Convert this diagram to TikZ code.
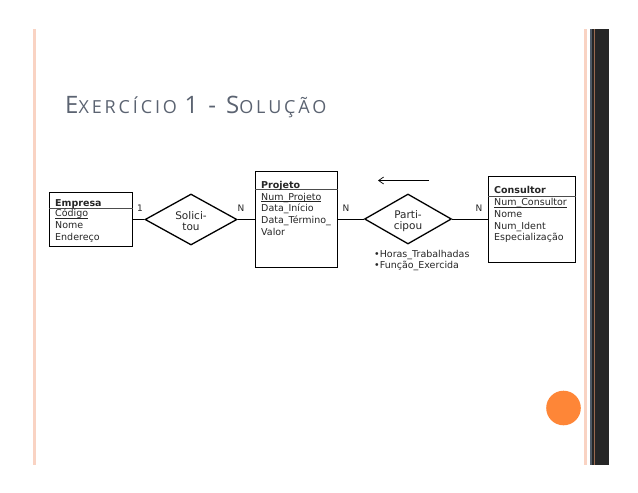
\documentclass[tikz,border=0pt]{standalone}
\usepackage{fontspec}
\setmainfont{DejaVu Sans}
\newfontfamily\titlefont[LetterSpace=16]{Open Sans}
\usetikzlibrary{shapes.geometric,arrows.meta}
\definecolor{pinkline}{HTML}{F9D3C3}
\definecolor{titlegray}{HTML}{5B6371}
\definecolor{bandbrown}{HTML}{9A6A50}
\definecolor{bandgray}{HTML}{262626}
\definecolor{bandblue}{HTML}{4F5A66}
\definecolor{dotorange}{HTML}{FE8637}
\newcommand{\ul}[1]{\underline{\smash{#1}}}
\tikzset{
  entity/.style={draw=black,line width=1.3pt,fill=white,anchor=north west,inner sep=0pt},
  rel/.style={diamond,draw=black,line width=1.3pt,fill=white,inner sep=0pt,aspect=1.8},
  link/.style={draw=black,line width=0.7pt},
  divider/.style={draw=black!70,line width=0.6pt},
  txt/.style={font=\fontsize{9.5}{11}\selectfont,text=black!85,anchor=base west,inner sep=0pt},
  bold/.style={txt,font=\fontsize{9.5}{11}\selectfont\bfseries},
  card/.style={font=\fontsize{9}{10}\selectfont,text=black!85,inner sep=0pt},
  reltxt/.style={font=\fontsize{10.5}{11.5}\selectfont,text=black!85,align=center,inner sep=0pt,anchor=center}
}
\begin{document}
\begin{tikzpicture}[x=1pt,y=-1pt]
\useasboundingbox (0,0) rectangle (638,493);
% frame
\fill[pinkline] (32.5,29) rectangle (36,465);
\fill[pinkline] (584,29) rectangle (586.5,465);
\fill[bandgray] (589.5,29) rectangle (609,465);
\fill[bandblue] (589.5,29) rectangle (591.5,465);
\fill[bandbrown] (594.2,29) rectangle (595.2,465);
\fill[dotorange] (563.5,408) circle (17.3);
% title
\node[anchor=base west,inner sep=0pt,text=titlegray] (title) at (65,113)
  {\titlefont\fontsize{24}{26}\selectfont E\fontsize{18}{26}\selectfont XERCÍCIO \fontsize{24}{26}\selectfont 1 - S\fontsize{18}{26}\selectfont OLUÇÃO};
% entities
\node[entity,minimum width=83pt,minimum height=54pt] (emp) at (49,192) {};
\node[entity,minimum width=82pt,minimum height=96pt] (proj) at (255,171) {};
\node[entity,minimum width=87pt,minimum height=86pt] (cons) at (488,176) {};
\draw[divider] (emp.west |- 0,208) -- (emp.east |- 0,208);
\draw[divider] (proj.west |- 0,189.5) -- (proj.east |- 0,189.5);
\draw[divider] (cons.west |- 0,196.5) -- (cons.east |- 0,196.5);
% relationships
\node[rel,minimum width=92pt,minimum height=51pt] (sol) at (191,219.5) {};
\node[rel,minimum width=87pt,minimum height=50pt] (par) at (408,219) {};
\node[reltxt] (soltxt) at (191,221) {Solici-\\tou};
\node[reltxt] (partxt) at (408,221) {Parti-\\cipou};
% connectors
\draw[link] (emp.east |- sol.west) -- (sol.west);
\draw[link] (sol.east) -- (sol.east -| proj.west);
\draw[link] (proj.east |- par.west) -- (par.west);
\draw[link] (par.east) -- (par.east -| cons.west);
\coordinate (arrowstart) at (429,180.5);
\coordinate (arrowend) at (378,180.5);
\draw[link,-{Straight Barb[length=5pt,width=7pt]}] (arrowstart) -- (arrowend);
% cardinalities
\node[card] (c1) at (140,208) {1};
\node[card] (c2) at (241,208) {N};
\node[card] (c3) at (346,208) {N};
\node[card] (c4) at (479,208) {N};
% Empresa
\node[bold] (e0) at (55,206) {Empresa};
\node[txt] (e1) at (55,216.5) {\ul{Código}};
\node[txt] (e2) at (55,228.5) {Nome};
\node[txt] (e3) at (55,240) {Endereço};
% Projeto
\node[bold] (p0) at (261,188) {Projeto};
\node[txt] (p1) at (261,200) {\ul{Num\_Projeto}};
\node[txt] (p2) at (261,211.7) {Data\_Início};
\node[txt] (p3) at (261,223) {Data\_Término\_};
\node[txt] (p4) at (261,235) {Valor};
% Consultor
\node[bold] (k0) at (494,193.3) {Consultor};
\node[txt] (k1) at (494,205.7) {\ul{Num\_Consultor}};
\node[txt] (k2) at (494,217.3) {Nome};
\node[txt] (k3) at (494,229) {Num\_Ident};
\node[txt] (k4) at (494,240.3) {Especialização};
% attributes
\node[txt] (a1) at (374,257) {•Horas\_Trabalhadas};
\node[txt] (a2) at (374,268.7) {•Função\_Exercida};
\end{tikzpicture}
\end{document}
